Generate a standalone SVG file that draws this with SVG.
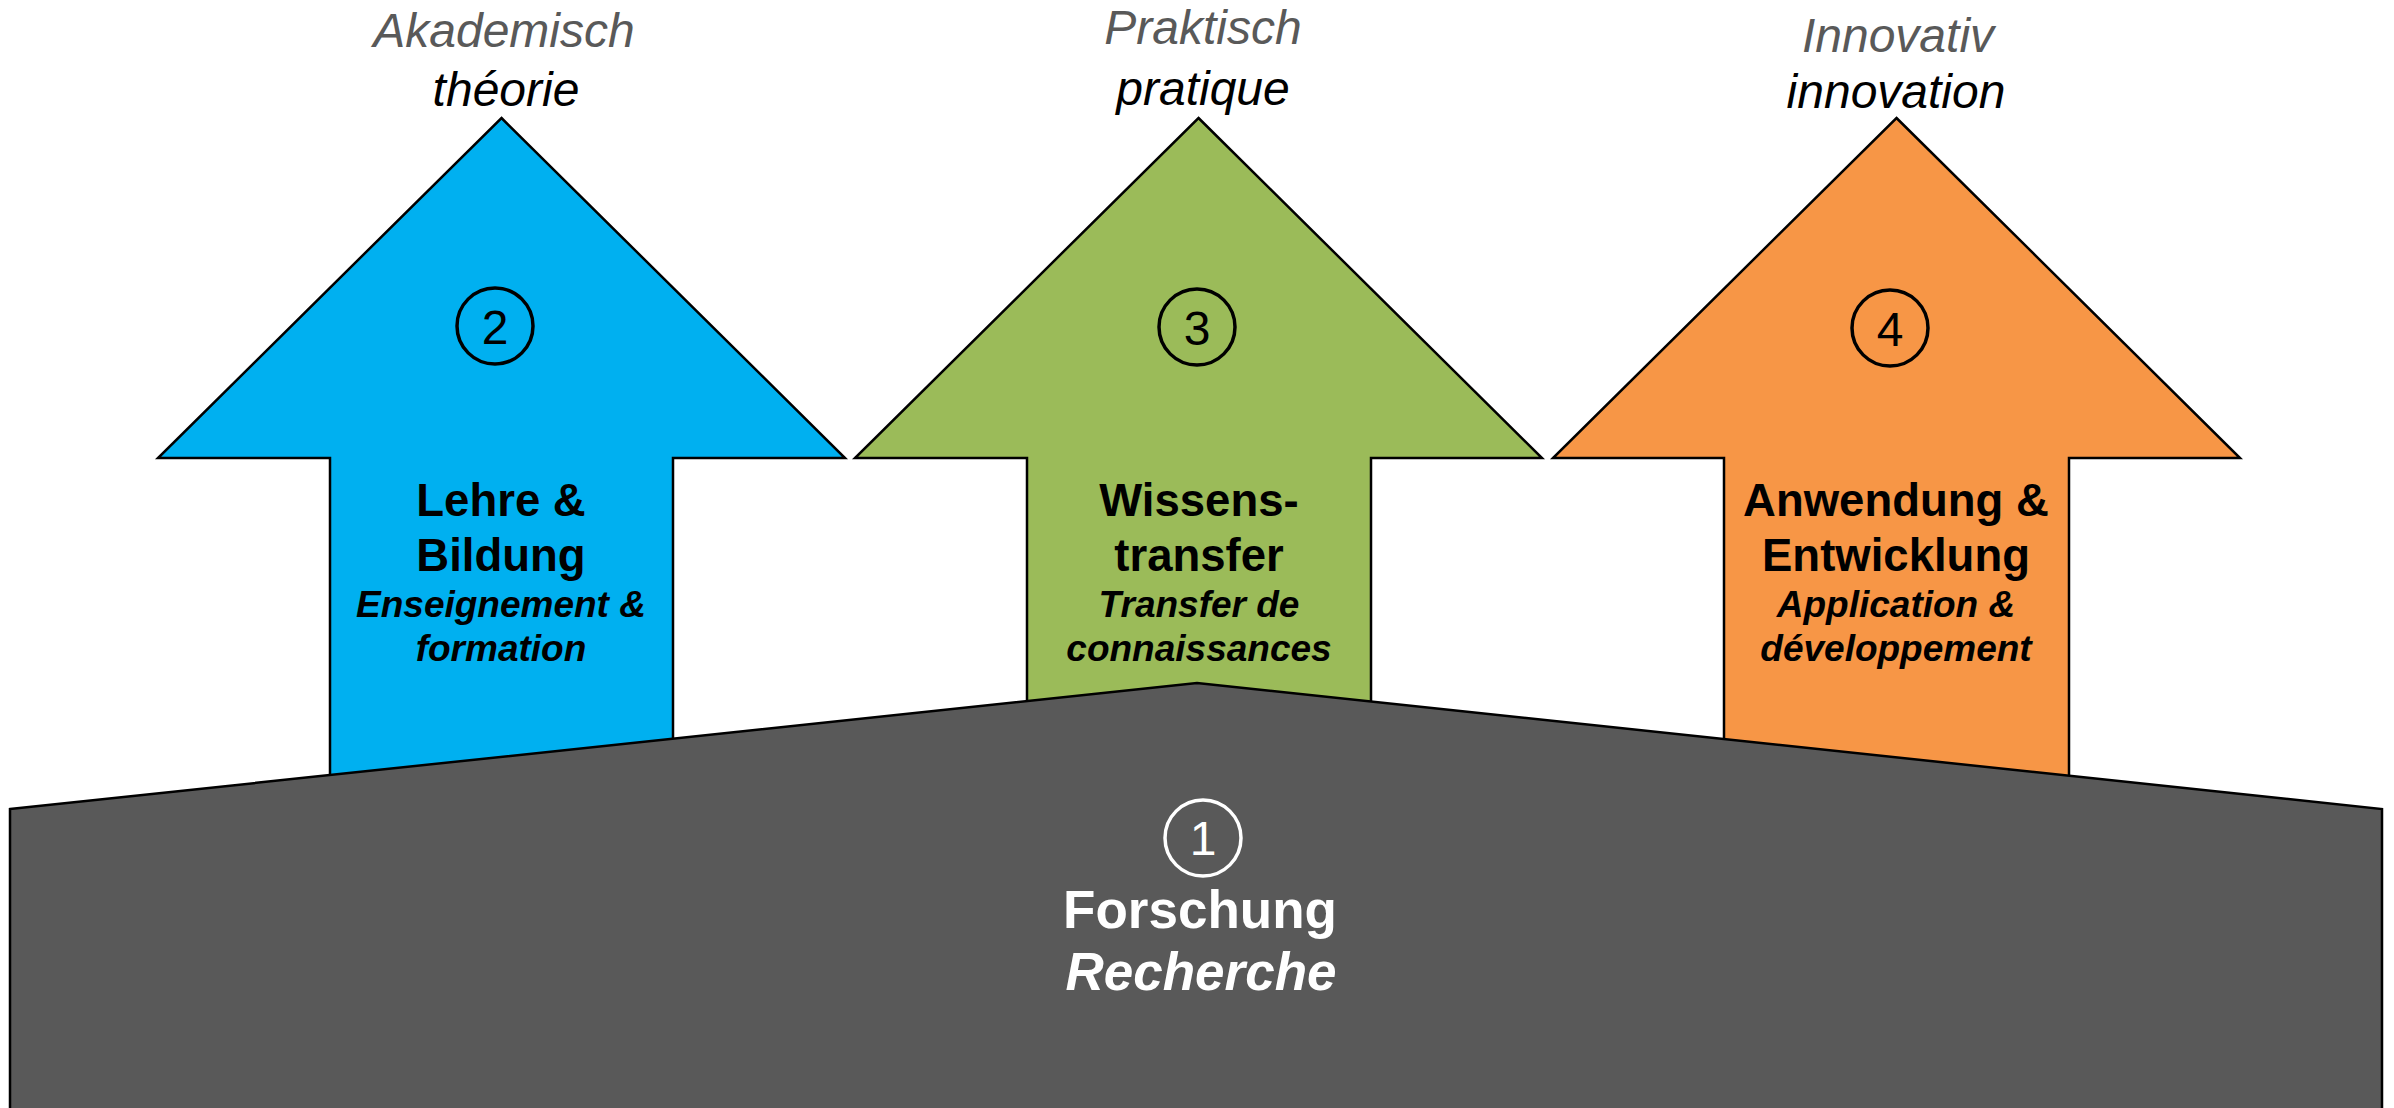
<svg xmlns="http://www.w3.org/2000/svg" width="2394" height="1108" viewBox="0 0 2394 1108">
<style>
.arrow{stroke:#000;stroke-width:2.5;stroke-linejoin:miter}
.top1{font-family:"Liberation Sans",Arial,sans-serif;font-style:italic;font-size:48px;fill:#595959;text-anchor:middle}
.top2{font-family:"Liberation Sans",Arial,sans-serif;font-style:italic;font-size:48px;fill:#000;text-anchor:middle}
.num{font-family:"Liberation Sans",Arial,sans-serif;font-size:48px;fill:#000;text-anchor:middle}
.ring{fill:none;stroke:#000;stroke-width:3.5}
.title{font-family:"Liberation Sans",Arial,sans-serif;font-weight:bold;font-size:45.5px;fill:#000;text-anchor:middle}
.sub{font-family:"Liberation Sans",Arial,sans-serif;font-weight:bold;font-style:italic;font-size:37px;fill:#000;text-anchor:middle}
</style>
<rect width="2394" height="1108" fill="#fff"/>
<g id="labels-top">
<text class="top1" x="504" y="47">Akademisch</text>
<text class="top2" x="506" y="106">théorie</text>
<text class="top1" x="1203" y="44">Praktisch</text>
<text class="top2" x="1203" y="105">pratique</text>
<text class="top1" x="1898" y="52">Innovativ</text>
<text class="top2" x="1896" y="108">innovation</text>
</g>
<g id="node2">
<polygon class="arrow" fill="#00B0F0" points="501.5,118 845,458 673,458 673,820 330,820 330,458 158,458"/>
<circle class="ring" cx="495" cy="326" r="38"/>
<text class="num" x="495" y="344">2</text>
<text class="title" x="501" y="516">Lehre &amp;</text>
<text class="title" x="501" y="571">Bildung</text>
<text class="sub" x="501" y="617">Enseignement &amp;</text>
<text class="sub" x="501" y="661">formation</text>
</g>
<g id="node3">
<polygon class="arrow" fill="#9BBB59" points="1198.5,118 1542,458 1371,458 1371,820 1027,820 1027,458 855,458"/>
<circle class="ring" cx="1197" cy="327" r="38"/>
<text class="num" x="1197" y="345">3</text>
<text class="title" x="1199" y="516">Wissens-</text>
<text class="title" x="1199" y="571">transfer</text>
<text class="sub" x="1199" y="617">Transfer de</text>
<text class="sub" x="1199" y="661">connaissances</text>
</g>
<g id="node4">
<polygon class="arrow" fill="#F79646" points="1896.5,118 2240,458 2069,458 2069,820 1724,820 1724,458 1553,458"/>
<circle class="ring" cx="1890" cy="328" r="38"/>
<text class="num" x="1890" y="346">4</text>
<text class="title" x="1896" y="516">Anwendung &amp;</text>
<text class="title" x="1896" y="571">Entwicklung</text>
<text class="sub" x="1896" y="617">Application &amp;</text>
<text class="sub" x="1896" y="661">développement</text>
</g>
<g id="node1">
<polygon fill="#595959" stroke="#000" stroke-width="2.5" points="10,809 1197,683 2382,809 2382,1120 10,1120"/>
<circle cx="1203" cy="838" r="38" fill="none" stroke="#fff" stroke-width="3.5"/>
<text x="1203" y="855" font-family="Liberation Sans, Arial, sans-serif" font-size="48" fill="#fff" text-anchor="middle">1</text>
<text x="1200" y="928" font-family="Liberation Sans, Arial, sans-serif" font-weight="bold" font-size="53" fill="#fff" text-anchor="middle">Forschung</text>
<text x="1201" y="990" font-family="Liberation Sans, Arial, sans-serif" font-weight="bold" font-style="italic" font-size="53" fill="#fff" text-anchor="middle">Recherche</text>
</g>
<g id="connectors"/>
</svg>
